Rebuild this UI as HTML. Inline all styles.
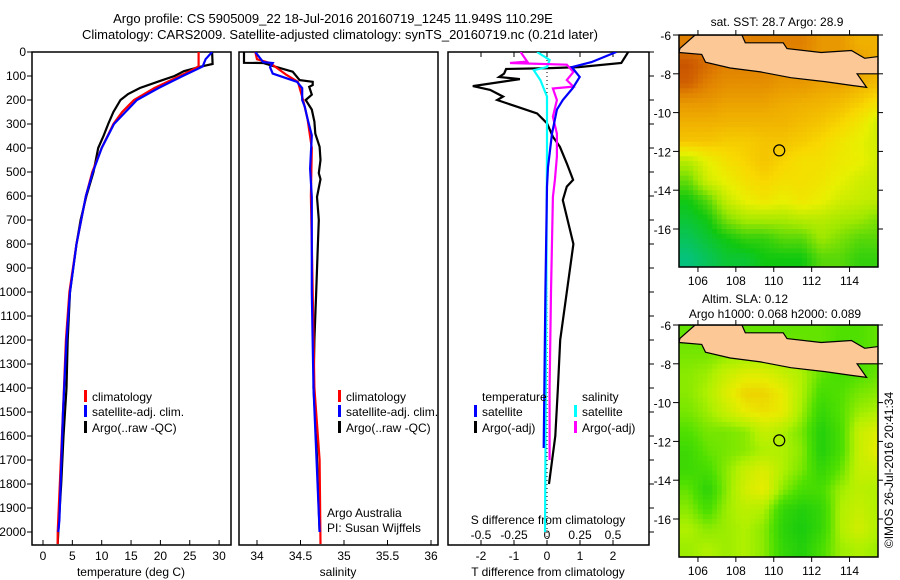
<!DOCTYPE html>
<html><head><meta charset="utf-8"><style>
html,body{margin:0;padding:0;background:#fff;}
svg{display:block;font-family:"Liberation Sans",sans-serif;font-size:12px;}
</style></head><body>
<svg id="c" width="900" height="580" viewBox="0 0 900 580" xmlns="http://www.w3.org/2000/svg">
<text x="333" y="23" text-anchor="middle" font-size="13">Argo profile: CS 5905009_22 18-Jul-2016 20160719_1245 11.949S 110.29E</text>
<text x="340" y="39" text-anchor="middle" font-size="13">Climatology: CARS2009. Satellite-adjusted climatology: synTS_20160719.nc (0.21d later)</text>
</svg>
<script>
// ---- profile data ----
const tArgoDepth=[0,50,60,70,80,90,100,120,150,175,200,250,300,350,400,500,600,700,800,1000,1200,1400,1600,1800,2000,2050];
const tArgoVal=[28.8,28.9,27,25.5,24,23.2,22.4,20,16.5,14.5,13.2,12,11.1,10.3,9.4,8.6,7.4,6.4,5.7,4.6,4.2,4.0,3.5,3.1,2.6,2.5];
const tClimDepth=[0,60,80,100,150,200,250,300,400,500,600,800,1000,1200,1500,2000,2050];
const tClimVal=[26.5,26.5,25,23.3,19,15.5,13.5,12,10,8.4,7.3,5.7,4.5,3.9,3.4,2.5,2.5];
const tSatDepth=[0,30,60,80,100,150,200,300,400,500,600,800,1000,1200,1500,1950,2000];
const tSatVal=[28.8,27.7,27.2,25.5,23.8,19.7,16,12.1,10,8.5,7.3,5.7,4.6,4.0,3.4,2.8,2.6];
const sArgoDepth=[0,45,46,60,82,117,124,138,145,178,200,240,290,340,395,450,505,530,604,700,800,1000,1200,1400,1600,1800,2000];
const sArgoVal=[33.85,33.85,34.07,34.2,34.41,34.49,34.64,34.64,34.6,34.63,34.56,34.63,34.66,34.67,34.72,34.73,34.71,34.73,34.69,34.71,34.70,34.68,34.66,34.65,34.68,34.70,34.72];
const sClimDepth=[0,30,46,96,124,200,278,400,600,1000,1400,1700,2050];
const sClimVal=[33.98,34.0,34.15,34.34,34.47,34.53,34.58,34.63,34.62,34.64,34.66,34.72,34.73];
const sSatDepth=[0,42,46,63,90,124,151,200,228,278,347,486,604,1000,1400,2000];
const sSatVal=[33.98,34.07,34.18,34.15,34.18,34.46,34.52,34.52,34.55,34.58,34.63,34.61,34.63,34.63,34.65,34.72];
const dTArgoDepth=[0,46,63,67,71,90,104,113,142,158,186,200,228,256,297,353,395,464,533,561,617,800,1000,1200,1400,1600,1800];
const dTArgoVal=[2.46,2.25,0.96,0.1,-1.24,-1.3,-1.45,-0.82,-2.25,-1.72,-1.33,-1.51,-0.91,-0.3,0,0.18,0.39,0.6,0.79,0.6,0.48,0.8,0.6,0.4,0.33,0.25,0.06];
const dTSatDepth=[0,42,63,104,151,200,240,340,410,480,560,1000,1650];
const dTSatVal=[2.1,1.35,0.75,0.99,0.78,0.48,0.3,0.15,0.09,0.03,0,-0.05,-0.1];
const dSArgoDepth=[0,40,46,53,83,117,144,152,200,270,340,436,533,604,1000,1400,1700];
const dSArgoVal=[-0.2,-0.15,-0.28,0.15,0.2,0.15,0.2,0.045,0.075,0.045,0.075,0.075,0.06,0.045,0.03,0.02,0.02];
const dSSatDepth=[0,33,63,76,117,186,400,1000,1500,2000];
const dSSatVal=[-0.075,0.02,0,-0.1,-0.05,0,0,-0.005,-0.01,-0.015];
const depthTicks=[0,100,200,300,400,500,600,700,800,900,1000,1100,1200,1300,1400,1500,1600,1700,1800,1900,2000];
const tempTicks=[0,5,10,15,20,25,30];
const salTicks=[34,34.5,35,35.5,36];
const salTickLabels=["34","34.5","35","35.5","36"];
const dTTicks=[-2,-1,0,1,2];
const dSTicks=[-0.5,-0.25,0,0.25,0.5];
const dSTickLabels=["-0.5","-0.25","0","0.25","0.5"];
// ---- map data (values 0..1 on colour scale), rows lat -6..-18, cols lon 105..116 ----
const sstGrid=[
[.85,.85,.8,.85,.85,.85,.85,.8,.8,.75,.75],
[.92,.88,.85,.85,.85,.82,.82,.8,.8,.8,.75],
[.9,.85,.82,.82,.82,.8,.8,.78,.78,.75,.72],
[.8,.8,.78,.78,.78,.76,.75,.74,.72,.68,.62],
[.75,.75,.74,.74,.74,.74,.72,.7,.66,.6,.5],
[.7,.7,.68,.68,.7,.7,.68,.65,.6,.55,.5],
[.45,.55,.62,.66,.7,.66,.62,.62,.58,.56,.5],
[.32,.5,.56,.62,.66,.62,.62,.6,.55,.5,.48],
[.2,.3,.48,.56,.6,.56,.6,.56,.5,.48,.46],
[.15,.2,.35,.42,.42,.42,.45,.45,.42,.4,.35],
[.1,.15,.2,.25,.25,.3,.3,.4,.35,.3,.3],
[.05,.1,.15,.15,.2,.2,.2,.3,.3,.25,.25]];
const slaGrid=[
[.4,.4,.4,.4,.4,.4,.4,.4,.35,.35,.4],
[.45,.45,.5,.5,.5,.5,.45,.4,.3,.35,.4],
[.5,.55,.7,.8,.8,.7,.6,.4,.3,.35,.4],
[.5,.6,.8,.95,.95,.85,.6,.3,.35,.45,.5],
[.45,.55,.7,.85,.9,.85,.55,.2,.35,.55,.6],
[.35,.45,.45,.5,.7,.6,.45,.1,.3,.7,.8],
[.25,.4,.45,.5,.6,.6,.5,.1,.3,.7,.85],
[.25,.3,.5,.7,.8,.6,.45,.2,.4,.7,.7],
[.4,.15,.5,.75,.85,.5,.3,.3,.55,.65,.6],
[.5,.3,.55,.65,.6,.2,.1,.2,.6,.7,.6],
[.6,.5,.55,.6,.5,.15,.05,.2,.6,.75,.6],
[.55,.6,.55,.6,.5,.2,.1,.3,.55,.6,.55]];
const lonTicks=[106,108,110,112,114];
const latTicks=[-6,-8,-10,-12,-14,-16];
const javaLon=[105.05,105.85,108.32,108.5,110.5,110.7,112.5,114.1,114.8,115.6,115.6,114.4,114.9,114.1,112.7,110.9,109.3,107.7,106.4,106.2,105.0];
const javaLat=[-6.69,-6.0,-6.0,-6.4,-6.4,-6.7,-6.9,-6.8,-7.2,-7.1,-8.0,-8.0,-8.7,-8.6,-8.4,-8.2,-7.9,-7.7,-7.4,-7.0,-6.9];
const floatLon=110.29, floatLat=-11.949;

const svg=document.getElementById('c');
const NS='http://www.w3.org/2000/svg';
function mk(tag,attrs,parent){const e=document.createElementNS(NS,tag);for(const k in attrs)e.setAttribute(k,attrs[k]);(parent||svg).appendChild(e);return e;}
function txt(x,y,s,anchor,parent){const t=mk('text',{x:x,y:y,'text-anchor':anchor||'start'},parent);t.textContent=s;return t;}

const TOP=52,BOT=545;
const dy=d=>TOP+d*0.24;
const tx=t=>43+t*5.87;
const sx=s=>257+(s-34)*87;
const dtx=v=>547+v*33;
const dsx=v=>547+v*132;
const panels=[[32,231],[239,438],[448,649]];

const defs=mk('defs',{});
panels.forEach((p,i)=>{const cp=mk('clipPath',{id:'cp'+i},defs);mk('rect',{x:p[0],y:TOP,width:p[1]-p[0],height:BOT-TOP},cp);});
const cpm1=mk('clipPath',{id:'cpm1'},defs);mk('rect',{x:679,y:35,width:199,height:232},cpm1);
const cpm2=mk('clipPath',{id:'cpm2'},defs);mk('rect',{x:679,y:325,width:199,height:232},cpm2);

function line(depths,vals,fx,color,clip,name){
  let d='';depths.forEach((dd,i)=>{d+=(i?'L':'M')+fx(vals[i]).toFixed(1)+','+dy(dd).toFixed(1);});
  const p=mk('path',{d:d,fill:'none',stroke:color,'stroke-width':2.2,'clip-path':'url(#'+clip+')'});
  
  
}
function legend(x,y,color,label,name){
  if(color){const r=mk('rect',{x:x,y:y-7,width:3,height:12,fill:color});
    
    }
  const t=txt(x+8,y+4,label);
  
  
}

panels.forEach((p,i)=>{const r=mk('rect',{x:p[0],y:TOP,width:p[1]-p[0],height:BOT-TOP,fill:'none',stroke:'#000','stroke-width':1.5});
  
  });

depthTicks.forEach(d=>{mk('line',{x1:27,x2:32,y1:dy(d),y2:dy(d),stroke:'#000'});
  const t=txt(26,dy(d)+4,String(d),'end');
  
  
  mk('line',{x1:649,x2:654,y1:dy(d),y2:dy(d),stroke:'#000'});});

function xaxis(ticks,labels,fx){ticks.forEach((v,i)=>{mk('line',{x1:fx(v),x2:fx(v),y1:BOT-5,y2:BOT,stroke:'#000'});
  const t=txt(fx(v),BOT+15,labels[i],'middle');
  
  });}
xaxis(tempTicks,tempTicks.map(String),tx);
xaxis(salTicks,salTickLabels,sx);
xaxis(dTTicks,dTTicks.map(String),dtx);
dSTicks.forEach((v,i)=>{mk('line',{x1:dsx(v),x2:dsx(v),y1:BOT,y2:BOT-5,stroke:'#000'});
  mk('line',{x1:dsx(v),x2:dsx(v),y1:TOP,y2:TOP+5,stroke:'#000'});
  const t=txt(dsx(v),BOT-6,dSTickLabels[i],'middle');
  
  });
[['temperature (deg C)',131,'x-axis-title-temperature'],['salinity',338,'x-axis-title-salinity'],['T difference from climatology',548,'x-axis-title-t-diff']].forEach(a=>{
  const t=txt(a[1],576,a[0],'middle');});
{const t=txt(548,524,'S difference from climatology','middle');}

mk('line',{x1:547,x2:547,y1:TOP,y2:BOT,stroke:'#000','stroke-dasharray':'1,3'});

line(tArgoDepth,tArgoVal,tx,'#000','cp0','temp-argo-line');
line(tClimDepth,tClimVal,tx,'#f00','cp0','temp-climatology-line');
line(tSatDepth,tSatVal,tx,'#00f','cp0','temp-satellite-line');
line(sArgoDepth,sArgoVal,sx,'#000','cp1','sal-argo-line');
line(sClimDepth,sClimVal,sx,'#f00','cp1','sal-climatology-line');
line(sSatDepth,sSatVal,sx,'#00f','cp1','sal-satellite-line');
line(dTArgoDepth,dTArgoVal,dtx,'#000','cp2','t-diff-argo-line');
line(dSSatDepth,dSSatVal,dsx,'#0ff','cp2','s-diff-satellite-line');
line(dSArgoDepth,dSArgoVal,dsx,'#f0f','cp2','s-diff-argo-line');
line(dTSatDepth,dTSatVal,dtx,'#00f','cp2','t-diff-satellite-line');

legend(84,397,'#f00','climatology','legend-climatology');
legend(84,412,'#00f','satellite-adj. clim.','legend-satellite-adj');
legend(84,428,'#000','Argo(..raw -QC)','legend-argo-raw');
legend(338,397,'#f00','climatology','legend2-climatology');
legend(338,412,'#00f','satellite-adj. clim.','legend2-satellite-adj');
legend(338,428,'#000','Argo(..raw -QC)','legend2-argo-raw');
legend(474,397,null,'temperature','legend-temperature-header');
legend(474,412,'#00f','satellite','legend-t-satellite');
legend(474,428,'#000','Argo(-adj)','legend-t-argo');
legend(574,397,null,'salinity','legend-salinity-header');
legend(574,412,'#0ff','satellite','legend-s-satellite');
legend(574,428,'#f0f','Argo(-adj)','legend-s-argo');
{const t=txt(327,517,'Argo Australia');
 const u=txt(327,532,'PI: Susan Wijffels');}

// ---- maps ----
const sstStops=[[0,[0,192,160]],[0.2,[16,200,16]],[0.4,[160,232,0]],[0.55,[232,240,0]],[0.65,[248,216,0]],[0.75,[240,176,0]],[0.85,[224,128,0]],[0.95,[192,64,0]],[1,[176,0,0]]];
const slaStops=[[0,[16,200,16]],[0.35,[80,224,0]],[0.6,[176,240,0]],[0.85,[232,236,0]],[1,[240,200,0]]];
function col(stops,v){v=Math.max(0,Math.min(1,v));for(let i=1;i<stops.length;i++){if(v<=stops[i][0]){const a=stops[i-1],b=stops[i],f=(v-a[0])/(b[0]-a[0]);
  return 'rgb('+a[1].map((c,k)=>Math.round(c+(b[1][k]-c)*f)).join(',')+')';}}return 'rgb('+stops[stops.length-1][1].join(',')+')';}
const mx=lon=>679+(lon-105)*18.95;
function drawMap(grid,stops,top,clip,name,sub){
  const g=mk('g',{'clip-path':'url(#'+clip+')'});
  
  
  const my=lat=>top+(-6-lat)*19.4;
  const R=grid.length,C=grid[0].length;
  function val(r,c){r=Math.max(0,Math.min(R-1,r));c=Math.max(0,Math.min(C-1,c));
    const r0=Math.floor(r),c0=Math.floor(c),r1=Math.min(R-1,r0+1),c1=Math.min(C-1,c0+1),fr=r-r0,fc=c-c0;
    return grid[r0][c0]*(1-fr)*(1-fc)+grid[r0][c1]*(1-fr)*fc+grid[r1][c0]*fr*(1-fc)+grid[r1][c1]*fr*fc;}
  for(let i=0;i<R*sub;i++)for(let j=0;j<C*sub;j++){
    const v=val((i+0.5)/sub-0.5,(j+0.5)/sub-0.5);
    const x0=mx(105+j/sub),x1=mx(105+(j+1)/sub),y0=my(-6-i/sub),y1=my(-6-(i+1)/sub);
    const r=mk('rect',{x:x0.toFixed(2),y:y0.toFixed(2),width:(x1-x0+0.6).toFixed(2),height:(y1-y0+0.6).toFixed(2),fill:col(stops,v)},g);
    
    
  }
  let d='';javaLon.forEach((lo,i)=>{d+=(i?'L':'M')+mx(lo).toFixed(1)+','+my(javaLat[i]).toFixed(1);});
  const land=mk('path',{d:d+'Z',fill:'#fcc896',stroke:'#000','stroke-width':1.2},g);
  
  
  const c=mk('circle',{cx:mx(floatLon),cy:my(floatLat),r:5.5,fill:'none',stroke:'#000','stroke-width':1.2},g);
  
  
  const f=mk('rect',{x:679,y:top,width:199,height:232,fill:'none',stroke:'#000','stroke-width':1.5});
  
  
  latTicks.forEach(l=>{mk('line',{x1:673,x2:679,y1:my(l),y2:my(l),stroke:'#000'});mk('line',{x1:878,x2:883,y1:my(l),y2:my(l),stroke:'#000'});
    const t=txt(671,my(l)+5,String(l),'end');});
  lonTicks.forEach(l=>{mk('line',{x1:mx(l),x2:mx(l),y1:top+232,y2:top+237,stroke:'#000'});mk('line',{x1:mx(l),x2:mx(l),y1:top,y2:top-5,stroke:'#000'});
    const t=txt(mx(l),top+250,String(l),'middle');});
}
drawMap(sstGrid,sstStops,35,'cpm1','sst-map',4);
drawMap(slaGrid,slaStops,325,'cpm2','sla-map',4);
[['sat. SST: 28.7 Argo: 28.9',777,26,'sst-map-title'],['Altim. SLA: 0.12',745,303,'sla-map-title'],['Argo h1000: 0.068 h2000: 0.089',775,318,'argo-height-title']].forEach(a=>{
  const t=txt(a[1],a[2],a[0],'middle');});
{const t=txt(0,0,'©IMOS 26-Jul-2016 20:41:34','middle');t.setAttribute('transform','translate(893,470) rotate(-90)');
 }
</script>
</body></html>
